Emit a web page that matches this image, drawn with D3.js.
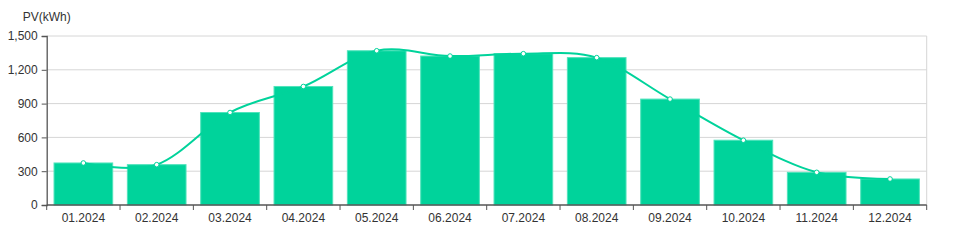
<!DOCTYPE html>
<html>
<head>
<meta charset="utf-8">
<script src="https://cdn.jsdelivr.net/npm/d3@7"></script>
<style>
  html, body { margin: 0; padding: 0; background: #fff; }
  svg { display: block; font-family: "Liberation Sans", Arial, sans-serif; }
</style>
</head>
<body>
<svg id="chart" width="976" height="252"></svg>
<script>
const months = ["01.2024", "02.2024", "03.2024", "04.2024", "05.2024", "06.2024",
                "07.2024", "08.2024", "09.2024", "10.2024", "11.2024", "12.2024"];
const pvValues = [373, 358, 821, 1052, 1369, 1322, 1343, 1308, 940, 575, 290, 231];
const yTicks = [0, 300, 600, 900, 1200, 1500];
const yLabel = "PV(kWh)";

const svg = d3.select("#chart");
const margin = { top: 36, right: 49.3, bottom: 47, left: 46.7 };
const width = 976 - margin.left - margin.right;
const height = 252 - margin.top - margin.bottom;
const green = "#00d39b";

const g = svg.append("g").attr("transform", `translate(${margin.left},${margin.top})`);

const xb = d3.scaleBand().domain(months).range([0, width]);
const y = d3.scaleLinear().domain([0, 1500]).range([height, 0]);
const barW = xb.bandwidth() * 0.8;

// grid
g.append("g")
  .selectAll("line")
  .data(yTicks.filter(d => d > 0))
  .join("line")
  .attr("x1", 0).attr("x2", width)
  .attr("y1", d => y(d)).attr("y2", d => y(d))
  .attr("stroke", "#d6d6d6");

// right border
g.append("line")
  .attr("x1", width).attr("x2", width)
  .attr("y1", 0).attr("y2", height)
  .attr("stroke", "#d6d6d6");

// bars
g.selectAll("rect.bar")
  .data(months.map((m, i) => ({ m, v: pvValues[i] })))
  .join("rect")
  .attr("class", "bar")
  .attr("x", d => xb(d.m) + (xb.bandwidth() - barW) / 2)
  .attr("width", barW)
  .attr("y", d => y(d.v))
  .attr("height", d => height - y(d.v))
  .attr("fill", green)
  .attr("stroke", "#4fe3bb")
  .attr("stroke-width", 1);

// smooth line
const line = d3.line()
  .x((d, i) => xb(months[i]) + xb.bandwidth() / 2)
  .y(d => y(d))
  .curve(d3.curveCardinal.tension(0));

g.append("path")
  .datum(pvValues)
  .attr("d", line)
  .attr("fill", "none")
  .attr("stroke", green)
  .attr("stroke-width", 2);

g.selectAll("circle.pt")
  .data(pvValues)
  .join("circle")
  .attr("class", "pt")
  .attr("cx", (d, i) => xb(months[i]) + xb.bandwidth() / 2)
  .attr("cy", d => y(d))
  .attr("r", 2.3)
  .attr("fill", "#fff")
  .attr("stroke", green)
  .attr("stroke-width", 1);

// axes
const yAxis = g.append("g")
  .call(d3.axisLeft(y).tickValues(yTicks).tickFormat(d3.format(",")).tickSize(5).tickPadding(4));
const xAxis = g.append("g")
  .attr("transform", `translate(0,${height})`)
  .call(d3.axisBottom(xb).tickSize(0).tickPadding(8));

// band-boundary ticks on x axis
xAxis.append("g")
  .selectAll("line")
  .data(d3.range(months.length + 1))
  .join("line")
  .attr("x1", i => i * xb.step()).attr("x2", i => i * xb.step())
  .attr("y1", 0).attr("y2", 5)
  .attr("stroke", "#555");

[yAxis, xAxis].forEach(a => {
  a.select(".domain").attr("stroke", "#555").attr("stroke-width", 1.3);
  a.selectAll(".tick line").attr("stroke", "#555");
  a.selectAll("text").attr("fill", "#333").attr("font-size", 12)
    .attr("font-family", "'Liberation Sans', Arial, sans-serif");
});
xAxis.select(".domain").attr("d", `M0,0H${width}`);

svg.append("text")
  .attr("x", margin.left)
  .attr("y", 21)
  .attr("text-anchor", "middle")
  .attr("fill", "#333")
  .attr("font-size", 12)
  .text(yLabel);
</script>
</body>
</html>
